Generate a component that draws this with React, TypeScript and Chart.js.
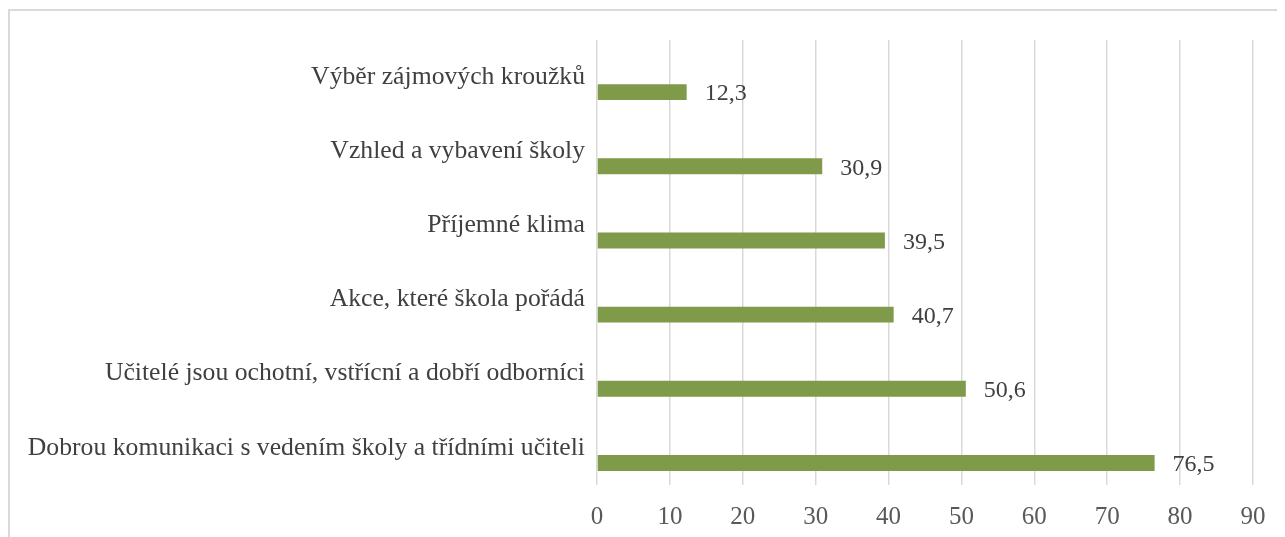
import React, { useEffect, useRef } from 'react';
import { Chart, registerables } from 'chart.js';

Chart.register(...registerables);

const categories = [
  'Výběr zájmových kroužků',
  'Vzhled a vybavení školy',
  'Příjemné klima',
  'Akce, které škola pořádá',
  'Učitelé jsou ochotní, vstřícní a dobří odborníci',
  'Dobrou komunikaci s vedením školy a třídními učiteli',
];
const values = [12.3, 30.9, 39.5, 40.7, 50.6, 76.5];
const placeholder = [null, null, null, null, null, null];
const xMin = 0;
const xMax = 90;
const xStep = 10;

const FONT = '"Liberation Serif", "Times New Roman", serif';
const BAR_COLOR = '#7F9A48';
const TEXT_COLOR = '#404040';
const TICK_COLOR = '#595959';
const GRID_COLOR = '#d9d9d9';

const W = 1277;
const H = 529;

const valueLabels = {
  id: 'valueLabels',
  afterDatasetsDraw(chart: any) {
    const ctx = chart.ctx;
    const meta = chart.getDatasetMeta(1);
    ctx.save();
    ctx.font = `24px ${FONT}`;
    ctx.fillStyle = TEXT_COLOR;
    ctx.textBaseline = 'middle';
    ctx.textAlign = 'left';
    meta.data.forEach((bar: any, i: number) => {
      const v = values[i];
      ctx.fillText(v.toFixed(1).replace('.', ','), bar.x + 18, bar.y + 2);
    });
    ctx.restore();
  },
};

export default function App() {
  const ref = useRef<HTMLCanvasElement | null>(null);

  useEffect(() => {
    if (!ref.current) return;
    const chart = new Chart(ref.current, {
      type: 'bar',
      data: {
        labels: categories,
        datasets: [
          {
            label: 'placeholder',
            data: placeholder as any,
            backgroundColor: BAR_COLOR,
          },
          {
            label: 'Hodnota',
            data: values,
            backgroundColor: BAR_COLOR,
            borderWidth: 0,
          },
        ],
      },
      options: {
        indexAxis: 'y',
        responsive: false,
        animation: false,
        categoryPercentage: 0.81,
        barPercentage: 0.53,
        layout: { padding: { left: 0, right: 32, top: 32, bottom: 0 } },
        plugins: {
          legend: { display: false },
          tooltip: { enabled: false },
          title: { display: false },
        },
        scales: {
          x: {
            type: 'linear',
            min: xMin,
            max: xMax,
            ticks: {
              stepSize: xStep,
              color: TICK_COLOR,
              font: { family: FONT, size: 25 },
              padding: 17,
            },
            grid: {
              color: GRID_COLOR,
              lineWidth: 1.5,
              drawTicks: false,
            },
            border: { display: false },
            afterFit(scale: any) {
              scale.height = 52;
            },
          },
          y: {
            type: 'category',
            ticks: {
              color: TEXT_COLOR,
              font: { family: FONT, size: 25.7 },
              padding: 12,
            },
            grid: { display: false, drawTicks: false },
            border: { display: false },
            afterFit(scale: any) {
              scale.width = 589;
            },
          },
        },
      },
      plugins: [valueLabels],
    } as any);
    return () => chart.destroy();
  }, []);

  return (
    <div style={{ position: 'relative', width: W, height: H, overflow: 'hidden' }}>
      <div style={{ position: 'absolute', left: 0, top: 1, width: W, height: 2, background: GRID_COLOR }} />
      <div style={{ position: 'absolute', left: 0, top: 1, width: 2, height: H, background: GRID_COLOR }} />
      <canvas ref={ref} width={W} height={H} style={{ display: 'block' }} />
    </div>
  );
}
